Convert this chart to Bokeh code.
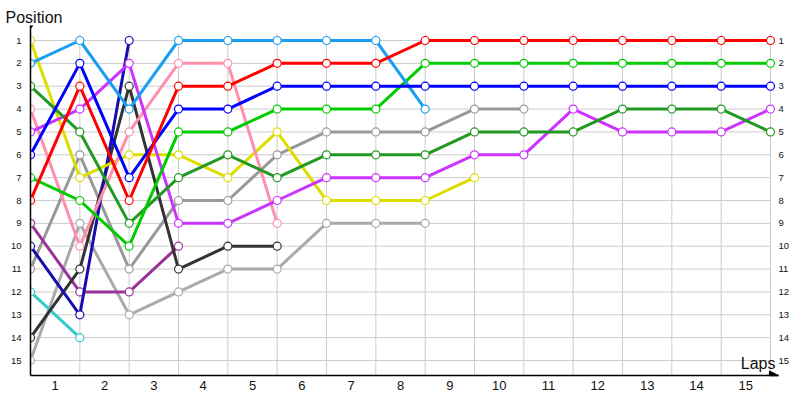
from bokeh.plotting import figure
from bokeh.models import Range1d, FixedTicker, LinearAxis, Arrow, NormalHead, Label
from bokeh.embed import file_html
from bokeh.resources import INLINE

# ---------------- data ----------------
LAPS = list(range(16))                      # lap 0 = start grid
LAP_LABELS = [str(i) for i in range(1, 16)]  # labels between laps
POSITIONS = list(range(1, 16))

light_blue = [2, 1, 4, 1, 1, 1, 1, 1, 4]
red = [8, 3, 8, 3, 3, 2, 2, 2, 1, 1, 1, 1, 1, 1, 1, 1]
blue = [6, 2, 7, 4, 4, 3, 3, 3, 3, 3, 3, 3, 3, 3, 3, 3]
green = [7, 8, 10, 5, 5, 4, 4, 4, 2, 2, 2, 2, 2, 2, 2, 2]
dark_green = [3, 5, 9, 7, 6, 7, 6, 6, 6, 5, 5, 5, 4, 4, 4, 5]
pink = [4, 10, 5, 2, 2, 9]
violet = [5, 4, 2, 9, 9, 8, 7, 7, 7, 6, 6, 4, 5, 5, 5, 4]
yellow = [1, 7, 6, 6, 7, 5, 8, 8, 8, 7]
gray_a = [11, 6, 11, 8, 8, 6, 5, 5, 5, 4, 4]
gray_b = [15, 9, 13, 12, 11, 11, 9, 9, 9]
plum = [9, 12, 12, 10]
navy = [10, 13, 1]
teal = [12, 14]
charcoal = [14, 11, 3, 11, 10, 10]

SERIES = [
    (gray_b, "#aaaaaa"),
    (gray_a, "#999999"),
    (teal, "#33cccc"),
    (plum, "#993399"),
    (charcoal, "#333333"),
    (navy, "#1a0db0"),
    (yellow, "#dddd00"),
    (pink, "#ff8fab"),
    (violet, "#cc33ff"),
    (dark_green, "#229922"),
    (green, "#00cc00"),
    (light_blue, "#1a9ff0"),
    (blue, "#0000ff"),
    (red, "#ff0000"),
]

# ---------------- layout ----------------
PX_LAP = (770 - 30) / 15.0
PX_POS = (360 - 40) / 14.0
X_END = LAPS[-1] + 8 / PX_LAP
Y_TOP = POSITIONS[0] - 15 / PX_POS
Y_BOT = POSITIONS[-1] + 15 / PX_POS

FONT = "Liberation Sans"

p = figure(width=800, height=400, output_backend="svg", toolbar_location=None,
           x_range=Range1d(0, X_END), y_range=Range1d(Y_BOT, Y_TOP),
           min_border_left=30, min_border_right=22, min_border_top=25,
           min_border_bottom=25, title="Position")
p.title.align = "left"
p.title.offset = -25
p.title.standoff = 0
p.title.text_font = FONT
p.title.text_font_size = "16px"
p.title.text_font_style = "normal"
p.title.text_color = "#111111"
p.outline_line_color = None
p.background_fill_color = "white"
p.border_fill_color = "white"
p.xgrid.visible = False
p.ygrid.visible = False

# grid lines
GRID_TOP = POSITIONS[0] - 7 / PX_POS
p.segment(x0=LAPS, y0=[GRID_TOP] * len(LAPS), x1=LAPS, y1=[Y_BOT] * len(LAPS),
          line_color="#cccccc", line_width=1)
p.segment(x0=[LAPS[0]] * len(POSITIONS), y0=POSITIONS, x1=[LAPS[-1]] * len(POSITIONS),
          y1=POSITIONS, line_color="#cccccc", line_width=1)

# left axis
ya = p.yaxis[0]
ya.ticker = FixedTicker(ticks=POSITIONS)
ya.major_tick_out = 0
ya.major_tick_in = 0
ya.minor_tick_out = 0
ya.minor_tick_in = 0
ya.axis_line_color = "black"
ya.axis_line_width = 1.5
ya.major_label_standoff = 9
ya.major_label_text_font = FONT
ya.major_label_text_font_size = "9.5px"
ya.major_label_text_color = "#111111"

# right axis (labels only)
ra = LinearAxis(ticker=FixedTicker(ticks=POSITIONS))
ra.major_tick_out = 0
ra.major_tick_in = 0
ra.minor_tick_out = 0
ra.minor_tick_in = 0
ra.axis_line_color = None
ra.major_label_standoff = 0
ra.major_label_text_font = FONT
ra.major_label_text_font_size = "9.5px"
ra.major_label_text_color = "#111111"
p.add_layout(ra, "right")

# bottom axis, labels centred between laps
mids = [l + 0.5 for l in LAPS[:-1]]
xa = p.xaxis[0]
xa.ticker = FixedTicker(ticks=mids)
xa.major_label_overrides = {m: lab for m, lab in zip(mids, LAP_LABELS)}
xa.major_tick_out = 0
xa.major_tick_in = 0
xa.minor_tick_out = 0
xa.minor_tick_in = 0
xa.axis_line_color = "black"
xa.axis_line_width = 1.5
xa.major_label_standoff = 5
xa.major_label_text_font = FONT
xa.major_label_text_font_size = "13px"
xa.major_label_text_color = "#111111"

# series
for vals, col in SERIES:
    xs = LAPS[:len(vals)]
    p.line(xs, vals, line_color=col, line_width=3, line_join="round")
    p.scatter(xs, vals, size=8, fill_color="white", line_color=col, line_width=1.2)

# axis decorations
p.add_layout(Arrow(end=NormalHead(size=9, fill_color="black", line_color="black"),
                   x_start=X_END - 0.25, y_start=Y_BOT, x_end=X_END, y_end=Y_BOT,
                   line_color="black", line_width=1.5))
p.scatter([LAPS[0]], [Y_TOP], size=4, color="black")

p.add_layout(Label(x=X_END - 3 / PX_LAP, y=POSITIONS[-1] + 11 / PX_POS, text="Laps",
                   text_font=FONT, text_font_size="16px", text_color="#111111",
                   text_baseline="bottom", text_align="right"))

open("out.html", "w").write(file_html(p, INLINE))
